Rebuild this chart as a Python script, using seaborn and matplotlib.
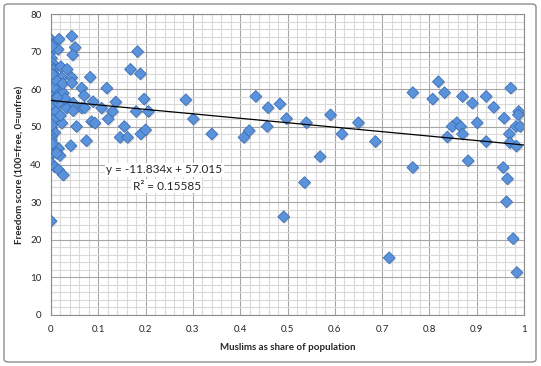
import matplotlib
matplotlib.use('Agg')
import matplotlib.pyplot as plt
import matplotlib.patheffects as pe
import seaborn as sns
import numpy as np
import pandas as pd
from matplotlib.patches import FancyBboxPatch
from matplotlib.ticker import MultipleLocator

# muslim share of population (x) and freedom score (y)
muslim_share = [
    # dense cluster near zero
    0.001, 0.005, 0.017, 0.044, 0.051, 0.046, 0.000, 0.015, 0.002, 0.001,
    0.003, 0.001, 0.005, 0.021, 0.034, 0.008, 0.023, 0.044, 0.083, 0.001,
    0.001, 0.016, 0.065, 0.012, 0.026, 0.070, 0.001, 0.004, 0.001, 0.016,
    0.033, 0.047, 0.065, 0.047, 0.071, 0.089, 0.107, 0.001, 0.010, 0.005,
    0.023, 0.054, 0.086, 0.093, 0.001, 0.008, 0.001, 0.001, 0.075, 0.042,
    0.001, 0.016, 0.001, 0.019, 0.001, 0.008, 0.016, 0.026, 0.000, 0.003,
    0.012, 0.002, 0.006, 0.010, 0.003, 0.025, 0.030, 0.020, 0.013, 0.044,
    # 0.1 - 0.25
    0.183, 0.168, 0.189, 0.118, 0.197, 0.137, 0.130, 0.121, 0.180, 0.206,
    0.155, 0.146, 0.162, 0.190, 0.200,
    # middle
    0.285, 0.301, 0.340, 0.408, 0.419, 0.433, 0.459, 0.457, 0.484, 0.498,
    0.540, 0.591, 0.615, 0.569, 0.536, 0.492,
    # right side
    0.819, 0.972, 0.765, 0.832, 0.807, 0.870, 0.920, 0.891, 0.936, 0.989,
    0.988, 0.958, 0.650, 0.858, 0.901, 0.848, 0.866, 0.983, 0.992, 0.870,
    0.969, 0.838, 0.686, 0.920, 0.970, 0.984, 0.882, 0.765, 0.956, 0.965,
    0.963, 0.977, 0.715, 0.985,
]
freedom_score = [
    73.1, 72.0, 73.3, 74.1, 71.1, 69.1, 70.0, 70.6, 71.5, 68.3,
    67.0, 66.0, 65.2, 66.0, 65.3, 63.8, 63.1, 63.1, 63.2, 62.0,
    61.0, 60.3, 60.3, 59.0, 59.0, 58.3, 58.0, 57.0, 55.9, 56.3,
    55.0, 56.3, 55.0, 54.3, 55.1, 56.7, 55.0, 53.2, 54.0, 51.9,
    51.0, 50.1, 51.4, 51.0, 49.7, 48.5, 47.4, 46.5, 46.3, 45.0,
    44.3, 44.3, 42.7, 42.4, 40.3, 39.4, 38.6, 37.2, 25.0, 45.5,
    43.0, 50.5, 60.5, 62.5, 64.0, 61.5, 57.5, 53.0, 57.8, 61.7,
    70.0, 65.3, 64.1, 60.3, 57.4, 56.6, 54.1, 52.1, 54.1, 54.1,
    50.1, 47.2, 47.2, 48.1, 49.2,
    57.2, 52.1, 48.1, 47.2, 49.0, 58.1, 55.1, 50.1, 56.1, 52.2,
    51.1, 53.2, 48.1, 42.1, 35.2, 26.1,
    62.0, 60.3, 59.1, 59.1, 57.4, 58.1, 58.1, 56.3, 55.2, 54.1,
    53.2, 52.3, 51.1, 51.1, 51.1, 50.1, 50.1, 50.1, 50.1, 48.1,
    48.1, 47.3, 46.1, 46.1, 45.8, 44.9, 41.0, 39.2, 39.2, 36.2,
    30.1, 20.3, 15.2, 11.3,
]

# linear trendline shown on the chart
slope = -11.834
intercept = 57.015
r_squared = 0.15585

df = pd.DataFrame({'share': muslim_share, 'score': freedom_score})

sns.set_style('white')
plt.rcParams['font.family'] = ['Lato', 'DejaVu Sans']

fig = plt.figure(figsize=(5.41, 3.66), dpi=100)
ax = fig.add_axes([51 / 541, 51 / 366, 473 / 541, 301 / 366])

# outer chart border
fig.patches.append(FancyBboxPatch((4 / 541, 4 / 366), 532 / 541, 358 / 366,
                                  boxstyle='round,pad=0,rounding_size=0.008',
                                  transform=fig.transFigure, fill=False,
                                  edgecolor='#8c8c8c', linewidth=1))

# grid
ax.xaxis.set_major_locator(MultipleLocator(0.1))
ax.xaxis.set_minor_locator(MultipleLocator(0.02))
ax.yaxis.set_major_locator(MultipleLocator(10))
ax.yaxis.set_minor_locator(MultipleLocator(2))
ax.grid(which='minor', color='#d9d9d9', linewidth=0.8)
ax.grid(which='major', color='#a6a6a6', linewidth=0.8)
ax.set_axisbelow(True)

sns.scatterplot(data=df, x='share', y='score', marker='D', s=36,
                color='#5a93db', edgecolor='#3c6fb5', linewidth=0.6,
                ax=ax, zorder=3)
# soft drop shadow like the spreadsheet markers
ax.collections[-1].set_path_effects([
    pe.SimplePatchShadow(offset=(0.8, -0.8), shadow_rgbFace='#7f7f7f', alpha=0.35),
    pe.Normal()])

xs = np.array([0, 1])
ax.plot(xs, slope * xs + intercept, color='black', linewidth=0.9, zorder=4)

ax.text(0.240, 38.6, f'y = {slope}x + {intercept}', ha='center', va='center',
        fontsize=8.5, bbox=dict(facecolor='white', edgecolor='none', pad=1))
ax.text(0.245, 34.2, f'R² = {r_squared}', ha='center', va='center',
        fontsize=8.5, bbox=dict(facecolor='white', edgecolor='none', pad=1))

ax.set_xlim(0, 1)
ax.set_ylim(0, 80)
ax.set_xticks(np.arange(0, 1.01, 0.1))
ax.set_xticklabels(['0', '0.1', '0.2', '0.3', '0.4', '0.5', '0.6', '0.7', '0.8', '0.9', '1'])
ax.tick_params(which='major', length=3, color='#8c8c8c', labelsize=7, pad=4)
ax.tick_params(which='minor', length=0)

for side in ['top', 'right', 'left', 'bottom']:
    ax.spines[side].set_color('#8c8c8c')
    ax.spines[side].set_linewidth(0.8)

ax.set_xlabel('Muslims as share of population', fontsize=7, fontweight='bold', labelpad=7)
ax.set_ylabel('Freedom score (100=free, 0=unfree)', fontsize=7, fontweight='bold', labelpad=4)

fig.savefig('out.png', dpi=100)
